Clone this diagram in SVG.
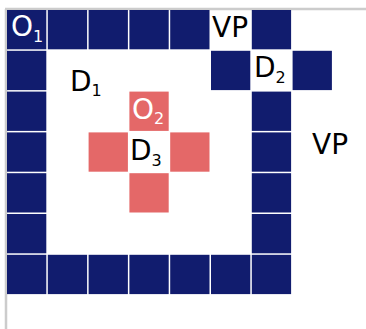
<svg xmlns="http://www.w3.org/2000/svg" width="366" height="329" viewBox="0 0 366 329">
<style>
.n{fill:#111c6e}
.s{fill:#e46868}
.t{font-family:"DejaVu Sans",sans-serif;font-size:28px;fill:#000}
.w{fill:#fff}
.sub{font-size:16px}
</style>
<rect x="0" y="0" width="366" height="329" fill="#fff"/>
<line x1="5" y1="9" x2="366" y2="9" stroke="#cccccc" stroke-width="2.5"/>
<line x1="6" y1="9" x2="6" y2="329" stroke="#cccccc" stroke-width="2.5"/>
<g id="wall">
<rect class="n" x="7" y="10" width="39.3" height="39.3"/>
<rect class="n" x="47.8" y="10" width="39.3" height="39.3"/>
<rect class="n" x="88.6" y="10" width="39.3" height="39.3"/>
<rect class="n" x="129.4" y="10" width="39.3" height="39.3"/>
<rect class="n" x="170.2" y="10" width="39.3" height="39.3"/>
<rect class="n" x="251.8" y="10" width="39.3" height="39.3"/>
<rect class="n" x="7" y="50.8" width="39.3" height="39.3"/>
<rect class="n" x="211" y="50.8" width="39.3" height="39.3"/>
<rect class="n" x="292.6" y="50.8" width="39.3" height="39.3"/>
<rect class="n" x="7" y="91.6" width="39.3" height="39.3"/>
<rect class="n" x="251.8" y="91.6" width="39.3" height="39.3"/>
<rect class="n" x="7" y="132.4" width="39.3" height="39.3"/>
<rect class="n" x="251.8" y="132.4" width="39.3" height="39.3"/>
<rect class="n" x="7" y="173.2" width="39.3" height="39.3"/>
<rect class="n" x="251.8" y="173.2" width="39.3" height="39.3"/>
<rect class="n" x="7" y="214" width="39.3" height="39.3"/>
<rect class="n" x="251.8" y="214" width="39.3" height="39.3"/>
<rect class="n" x="7" y="254.8" width="39.3" height="39.3"/>
<rect class="n" x="47.8" y="254.8" width="39.3" height="39.3"/>
<rect class="n" x="88.6" y="254.8" width="39.3" height="39.3"/>
<rect class="n" x="129.4" y="254.8" width="39.3" height="39.3"/>
<rect class="n" x="170.2" y="254.8" width="39.3" height="39.3"/>
<rect class="n" x="211" y="254.8" width="39.3" height="39.3"/>
<rect class="n" x="251.8" y="254.8" width="39.3" height="39.3"/>
</g>
<g id="cross">
<rect class="s" x="129.4" y="91.6" width="39.3" height="39.3"/>
<rect class="s" x="88.6" y="132.4" width="39.3" height="39.3"/>
<rect class="s" x="170.2" y="132.4" width="39.3" height="39.3"/>
<rect class="s" x="129.4" y="173.2" width="39.3" height="39.3"/>
</g>
<g id="O1"><text class="t w" x="11" y="36">O<tspan class="sub" dy="6">1</tspan></text></g>
<g id="O2"><text class="t w" x="132" y="119">O<tspan class="sub" dy="5">2</tspan></text></g>
<g id="D1"><text class="t" x="70" y="91">D<tspan class="sub" dy="5">1</tspan></text></g>
<g id="D2"><text class="t" x="254" y="77">D<tspan class="sub" dy="6">2</tspan></text></g>
<g id="D3"><text class="t" x="130" y="160">D<tspan class="sub" dy="6">3</tspan></text></g>
<g id="VP1"><text class="t" x="212" y="37">VP</text></g>
<g id="VP2"><text class="t" x="312" y="154">VP</text></g>
</svg>
